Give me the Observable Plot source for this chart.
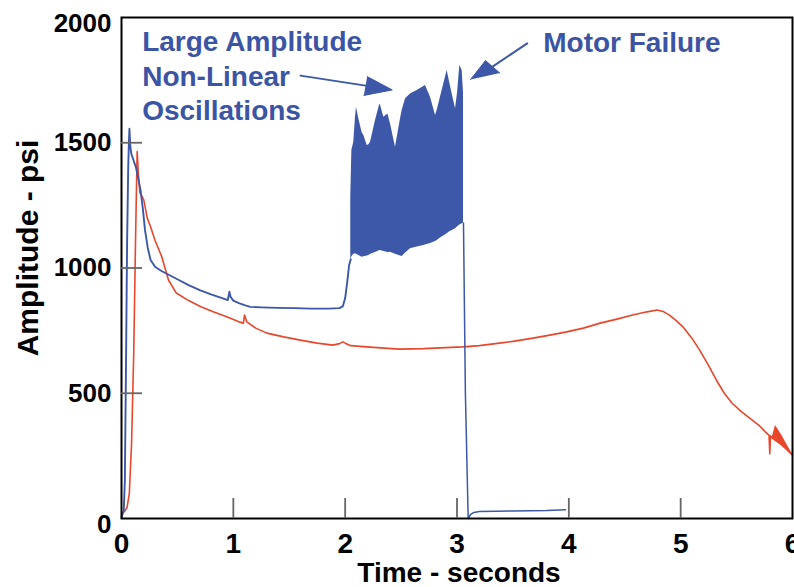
<!DOCTYPE html>
<html>
<head>
<meta charset="utf-8">
<script src="https://cdn.jsdelivr.net/npm/d3@7"></script>
<script src="https://cdn.jsdelivr.net/npm/@observablehq/plot@0.6"></script>
<style>
html, body { margin: 0; padding: 0; background: #fff; }
#chart { width: 794px; height: 587px; }
</style>
</head>
<body>
<div id="chart"></div>
<script>
// ---------- data ----------
// Blue trace, before the oscillation burst
const blueTime = [0, 0.02, 0.03, 0.04, 0.05, 0.06, 0.066, 0.071, 0.078, 0.088, 0.1, 0.13, 0.17, 0.19, 0.21, 0.235, 0.26, 0.3, 0.35, 0.4, 0.5, 0.6, 0.7, 0.8, 0.9, 0.95, 0.965, 0.975, 1.0, 1.05, 1.1, 1.15, 1.25, 1.4, 1.55, 1.7, 1.85, 1.95, 1.98, 2.0, 2.02, 2.035, 2.05];
const blueAmp  = [5, 30, 150, 600, 1100, 1400, 1500, 1556, 1490, 1455, 1440, 1400, 1312, 1240, 1152, 1080, 1032, 1005, 990, 978, 955, 932, 912, 895, 880, 872, 905, 885, 870, 860, 852, 845, 843, 841, 840, 838, 838, 840, 848, 880, 950, 1010, 1035];

// Blue oscillation band (lower / upper envelope)
const bandTime = [2.05, 2.06, 2.077, 2.092, 2.101, 2.122, 2.152, 2.167, 2.197, 2.212, 2.227, 2.271, 2.31, 2.316, 2.346, 2.382, 2.405, 2.45, 2.495, 2.51, 2.54, 2.584, 2.644, 2.703, 2.718, 2.763, 2.808, 2.823, 2.852, 2.912, 2.935, 2.957, 2.987, 3.005, 3.025, 3.046, 3.058];
const bandLow  = [1035, 1045, 1055, 1057, 1055, 1050, 1043, 1045, 1048, 1050, 1055, 1062, 1070, 1070, 1066, 1062, 1063, 1055, 1048, 1046, 1060, 1077, 1084, 1090, 1092, 1098, 1106, 1110, 1120, 1137, 1145, 1150, 1157, 1165, 1172, 1177, 1180];
const bandHigh = [1280, 1470, 1502, 1600, 1642, 1596, 1540, 1529, 1489, 1492, 1502, 1589, 1655, 1650, 1602, 1615, 1576, 1482, 1596, 1630, 1676, 1695, 1709, 1725, 1729, 1682, 1609, 1630, 1682, 1788, 1740, 1695, 1636, 1700, 1808, 1788, 1700];

// Blue trace after motor failure
const failTime = [3.058, 3.075, 3.1, 3.12, 3.15, 3.2, 3.35, 3.5, 3.65, 3.8, 3.97];
const failAmp  = [1180, 500, 0, 15, 24, 28, 29, 30, 31, 32, 35];

// Red trace
const redTime = [0, 0.03, 0.05, 0.07, 0.09, 0.11, 0.125, 0.14, 0.15, 0.165, 0.185, 0.2, 0.23, 0.26, 0.3, 0.36, 0.42, 0.49, 0.6, 0.71, 0.82, 0.94, 1.05, 1.09, 1.1, 1.12, 1.2, 1.3, 1.45, 1.6, 1.75, 1.89, 1.95, 1.98, 2.0, 2.05, 2.19, 2.35, 2.49, 2.7, 2.9, 3.05, 3.2, 3.38, 3.5, 3.68, 3.83, 3.98, 4.13, 4.28, 4.43, 4.57, 4.7, 4.79, 4.85, 4.9, 4.96, 5.02, 5.1, 5.17, 5.25, 5.32, 5.39, 5.46, 5.54, 5.62, 5.7, 5.77, 5.79, 5.797, 5.803, 5.818, 5.85, 5.9, 5.95, 6.0];
const redAmp  = [20, 30, 45, 100, 300, 672, 1100, 1465, 1380, 1300, 1285, 1270, 1200, 1165, 1110, 1045, 952, 900, 870, 845, 825, 805, 785, 780, 812, 785, 760, 740, 725, 712, 700, 692, 698, 705, 700, 690, 685, 680, 676, 678, 682, 685, 690, 700, 707, 720, 732, 745, 760, 780, 796, 812, 825, 832, 825, 812, 790, 765, 720, 672, 610, 552, 500, 460, 428, 400, 372, 340, 333, 259, 330, 322, 311, 295, 275, 253];

// Red burst near the end
const burstTime = [5.818, 5.848, 5.9, 5.95, 6.0];
const burstLow  = [322, 311, 295, 275, 251];
const burstHigh = [322, 371, 335, 295, 256];

// Tick values
const xTickValues = [0, 1, 2, 3, 4, 5, 6];
const xInnerTicks = [1, 2, 3, 4, 5];
const yTickValues = [0, 500, 1000, 1500, 2000];
const yInnerTicks = [500, 1000, 1500];

// Annotations
const annotText = ["Large Amplitude", "Non-Linear", "Oscillations", "Motor Failure"];
const annotTime = [0.185, 0.185, 0.185, 3.771];
const annotAmp  = [1904, 1764, 1625, 1897];

const arrow1ShaftTime = [1.601, 2.182];
const arrow1ShaftAmp  = [1768, 1728];
const arrow1HeadTime  = [2.197, 2.421, 2.167];
const arrow1HeadAmp   = [1764, 1711, 1689];
const arrow2ShaftTime = [3.628, 3.318];
const arrow2ShaftAmp  = [1897, 1804];
const arrow2HeadTime  = [3.121, 3.255, 3.383];
const arrow2HeadAmp   = [1752, 1828, 1778];

const xTitle = "Time - seconds";
const yTitle = "Amplitude - psi";

// ---------- build tables ----------
const zip2 = (ts, vs) => ts.map((t, i) => ({t, v: vs[i]}));
const blueRows = zip2(blueTime, blueAmp);
const bandRows = bandTime.map((t, i) => ({t, lo: bandLow[i], hi: bandHigh[i]}));
const failRows = zip2(failTime, failAmp);
const redRows = zip2(redTime, redAmp);
const burstRows = burstTime.map((t, i) => ({t, lo: burstLow[i], hi: burstHigh[i]}));
const annotRows = annotText.map((s, i) => ({s, t: annotTime[i], v: annotAmp[i]}));
const a1s = zip2(arrow1ShaftTime, arrow1ShaftAmp);
const a1h = zip2(arrow1HeadTime, arrow1HeadAmp);
const a2s = zip2(arrow2ShaftTime, arrow2ShaftAmp);
const a2h = zip2(arrow2HeadTime, arrow2HeadAmp);

const BLUE = "#3d58a8";
const BLUE_TXT = "#3b55a4";
const RED = "#e8472c";
const TICK = "#666666";
const FONT = "'Liberation Sans', Arial, Helvetica, sans-serif";

const svg = Plot.plot({
  width: 794,
  height: 587,
  marginLeft: 121,
  marginRight: 2,
  marginTop: 17,
  marginBottom: 69,
  style: {fontFamily: FONT, fontWeight: "bold", background: "#fff", color: "#000", overflow: "visible"},
  x: {domain: [0, 6]},
  y: {domain: [0, 2000]},
  marks: [
    Plot.line(redRows, {x: "t", y: "v", stroke: RED, strokeWidth: 1.6}),
    Plot.areaY(burstRows, {x: "t", y1: "lo", y2: "hi", fill: RED}),
    Plot.areaY(bandRows, {x: "t", y1: "lo", y2: "hi", fill: BLUE}),
    Plot.line(blueRows, {x: "t", y: "v", stroke: BLUE, strokeWidth: 1.9}),
    Plot.line(failRows, {x: "t", y: "v", stroke: BLUE, strokeWidth: 1.5}),
    Plot.line(a1s, {x: "t", y: "v", stroke: BLUE, strokeWidth: 2}),
    Plot.line(a1h, {x: "t", y: "v", stroke: BLUE, fill: BLUE, strokeWidth: 1}),
    Plot.line(a2s, {x: "t", y: "v", stroke: BLUE, strokeWidth: 2}),
    Plot.line(a2h, {x: "t", y: "v", stroke: BLUE, fill: BLUE, strokeWidth: 1}),
    Plot.text(annotRows, {x: "t", y: "v", text: "s", textAnchor: "start", lineAnchor: "middle", fill: BLUE_TXT, fontSize: 28, fontWeight: "bold"}),
    Plot.frame({stroke: "#000", strokeWidth: 2}),
    // short inward ticks along the bottom and left edges
    Plot.tickX(xInnerTicks, {x: d => d, stroke: TICK, strokeWidth: 1.8, insetTop: 481}),
    Plot.tickY(yInnerTicks, {y: d => d, stroke: TICK, strokeWidth: 1.8, insetRight: 650}),
    Plot.axisX({ticks: xTickValues, tickSize: 0, tickPadding: 15, fontSize: 28, label: null, tickFormat: d => String(d)}),
    Plot.axisY({ticks: yTickValues, tickSize: 0, tickPadding: 10, fontSize: 26, label: null, tickFormat: d => String(d)}),
    Plot.text([xTitle], {frameAnchor: "bottom", textAnchor: "middle", lineAnchor: "middle", text: d => d, dx: 2, dy: 55, fontSize: 28, fontWeight: "bold", fill: "#000"}),
    Plot.text([yTitle], {frameAnchor: "left", textAnchor: "middle", lineAnchor: "middle", text: d => d, dx: -93, dy: -20, rotate: -90, fontSize: 30, fontWeight: "bold", fill: "#000"})
  ]
});

document.getElementById("chart").appendChild(svg);

// the end labels of the y axis sit slightly lower in the reference
d3.select(svg).selectAll('g[aria-label="y-axis tick label"] text').each(function () {
  const s = this.textContent;
  if (s === "2000" || s === "0") this.setAttribute("dy", "6");
});
</script>
</body>
</html>
